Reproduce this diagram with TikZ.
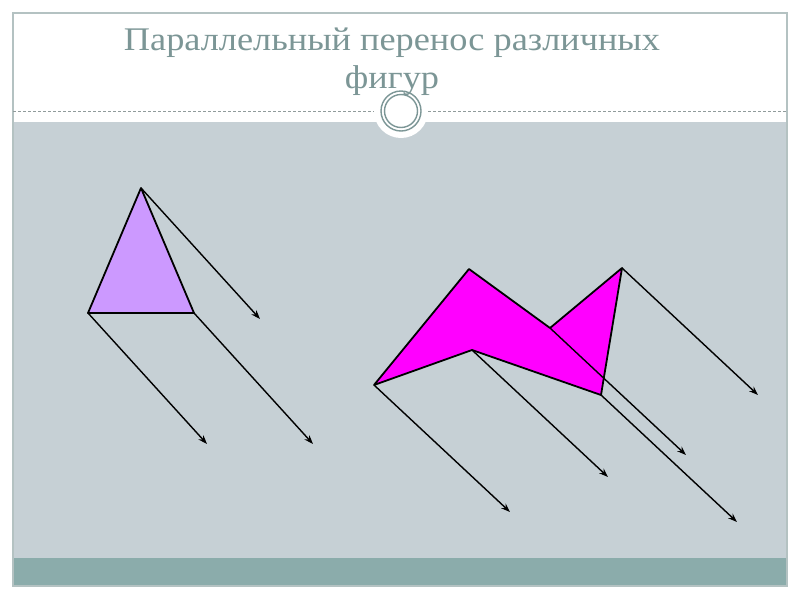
\documentclass[tikz,border=0pt]{standalone}
\usepackage{fontspec}
\setmainfont{Liberation Serif}
\newfontfamily\titlefont[FakeStretch=1.1]{Liberation Serif}
\usetikzlibrary{arrows.meta,calc}
\definecolor{slidegray}{HTML}{C6D0D5}
\definecolor{slideteal}{HTML}{8BACAB}
\definecolor{titlegray}{HTML}{7C9696}
\definecolor{framegray}{HTML}{B4C2C2}
\definecolor{lilac}{HTML}{CC99FF}
\definecolor{pinkfig}{HTML}{FF00FF}
\tikzset{
  figbody/.style = {draw=black, line width=1.8pt, line join=round},
  transl/.style  = {-{Stealth[length=9pt,width=6.5pt]}, line width=1.4pt},
  title/.style   = {text=titlegray, font=\titlefont\fontsize{33}{38}\selectfont, align=center}
}

\begin{document}
\begin{tikzpicture}[x=1pt,y=-1pt]
\useasboundingbox (0,0) rectangle (800,600);

% slide background
\fill[white] (0,0) rectangle (800,600);
\fill[slidegray] (13,122) rectangle (787,558);
\fill[slideteal] (13,558) rectangle (787,586);
\draw[framegray, line width=1.5pt] (13,13) rectangle (787,586);
\draw[framegray!80!black, dash pattern=on 3pt off 2pt] (13,111) -- (787,111);

% ornament on the header line
\fill[white] (401,111) circle (27);
\draw[titlegray, line width=1.4pt] (401,111) circle (20);
\draw[titlegray, line width=1.4pt] (401,111) circle (16.5);

\node[title] (head) at (392,62) {Параллельный перенос различных\\фигур};

% the triangle
\coordinate (t1) at (141,188);
\coordinate (t2) at (88,313);
\coordinate (t3) at (194,313);
\filldraw[figbody, fill=lilac] (t1) -- (t2) -- (t3) -- cycle;
\foreach \p in {t1,t2,t3} {
  \coordinate (\p end) at ($(\p)+(119,131)$);
  \draw[transl] (\p) -- (\p end);
}

% the second figure
\coordinate (a) at (374,385);
\coordinate (b) at (469,269);
\coordinate (e) at (550,328);
\coordinate (d) at (622,268);
\coordinate (f) at (601,395);
\coordinate (m) at (472,350);
\filldraw[figbody, fill=pinkfig] (a) -- (b) -- (e) -- (d) -- (f) -- (m) -- cycle;
\foreach \p in {a,m,e,d,f} {
  \coordinate (\p end) at ($(\p)+(136,127)$);
  \draw[transl] (\p) -- (\p end);
}

\end{tikzpicture}
\end{document}
